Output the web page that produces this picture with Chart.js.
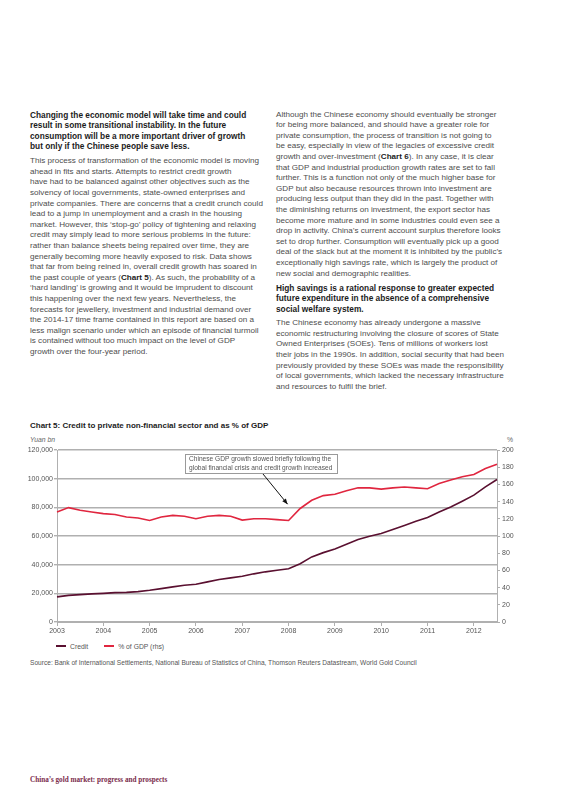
<!DOCTYPE html>
<html>
<head>
<meta charset="utf-8">
<script src="https://cdn.jsdelivr.net/npm/chart.js@4.4.0/dist/chart.umd.min.js"></script>
<style>
body{margin:0;background:#fff;width:573px;height:810px;position:relative;overflow:hidden;font-family:"Liberation Sans",Arial,sans-serif;}
.txt{position:absolute;font-size:8.1px;line-height:10.6px;color:#4d4d4d;white-space:nowrap;}
.hd{font-weight:bold;color:#1c1c1c;font-size:8.3px;}
.txt b{color:#1c1c1c;}
#title{position:absolute;left:30px;top:421px;font-size:8px;font-weight:bold;color:#1c1c1c;white-space:nowrap;}
.axt{position:absolute;font-size:6.8px;color:#666;top:436px;}
#chartbox{position:absolute;left:0;top:440px;width:573px;height:200px;}
#legend{position:absolute;left:56px;top:643px;font-size:6.8px;color:#555;white-space:nowrap;}
#legend span.sw{display:inline-block;width:10px;height:2px;vertical-align:middle;margin-right:4px;position:relative;top:-1px;}
#source{position:absolute;left:30px;top:659px;font-size:6.6px;color:#555;white-space:nowrap;}
#footer{position:absolute;left:30px;top:776px;font-size:7.2px;font-weight:bold;color:#7b2c4c;font-family:"Liberation Serif","DejaVu Serif",serif;white-space:nowrap;}
</style>
</head>
<body>

<div class="txt hd" style="left:30px;top:109.7px;">Changing the economic model will take time and could<br>result in some transitional instability. In the future<br>consumption will be a more important driver of growth<br>but only if the Chinese people save less.</div>

<div class="txt" style="left:30px;top:156.2px;">This process of transformation of the economic model is moving<br>ahead in fits and starts. Attempts to restrict credit growth<br>have had to be balanced against other objectives such as the<br>solvency of local governments, state-owned enterprises and<br>private companies. There are concerns that a credit crunch could<br>lead to a jump in unemployment and a crash in the housing<br>market. However, this ‘stop-go’ policy of tightening and relaxing<br>credit may simply lead to more serious problems in the future:<br>rather than balance sheets being repaired over time, they are<br>generally becoming more heavily exposed to risk. Data shows<br>that far from being reined in, overall credit growth has soared in<br>the past couple of years (<b>Chart 5</b>). As such, the probability of a<br>‘hard landing’ is growing and it would be imprudent to discount<br>this happening over the next few years. Nevertheless, the<br>forecasts for jewellery, investment and industrial demand over<br>the 2014-17 time frame contained in this report are based on a<br>less malign scenario under which an episode of financial turmoil<br>is contained without too much impact on the level of GDP<br>growth over the four-year period.</div>

<div class="txt" style="left:276px;top:109.7px;">Although the Chinese economy should eventually be stronger<br>for being more balanced, and should have a greater role for<br>private consumption, the process of transition is not going to<br>be easy, especially in view of the legacies of excessive credit<br>growth and over-investment (<b>Chart 6</b>). In any case, it is clear<br>that GDP and industrial production growth rates are set to fall<br>further. This is a function not only of the much higher base for<br>GDP but also because resources thrown into investment are<br>producing less output than they did in the past. Together with<br>the diminishing returns on investment, the export sector has<br>become more mature and in some industries could even see a<br>drop in activity. China’s current account surplus therefore looks<br>set to drop further. Consumption will eventually pick up a good<br>deal of the slack but at the moment it is inhibited by the public’s<br>exceptionally high savings rate, which is largely the product of<br>new social and demographic realities.</div>

<div class="txt hd" style="left:276px;top:282.7px;">High savings is a rational response to greater expected<br>future expenditure in the absence of a comprehensive<br>social welfare system.</div>

<div class="txt" style="left:276px;top:318.2px;">The Chinese economy has already undergone a massive<br>economic restructuring involving the closure of scores of State<br>Owned Enterprises (SOEs). Tens of millions of workers lost<br>their jobs in the 1990s. In addition, social security that had been<br>previously provided by these SOEs was made the responsibility<br>of local governments, which lacked the necessary infrastructure<br>and resources to fulfil the brief.</div>

<div id="title">Chart 5: Credit to private non-financial sector and as % of GDP</div>
<div class="axt" style="left:30px;font-style:italic;">Yuan bn</div>
<div class="axt" style="left:507px;">%</div>

<div id="chartbox"><canvas id="chart5" width="573" height="200"></canvas></div>

<div id="legend"><span class="sw" style="background:#5a1030"></span>Credit<span style="display:inline-block;width:16px"></span><span class="sw" style="background:#e0263f"></span>% of GDP (rhs)</div>

<div id="source">Source: Bank of International Settlements, National Bureau of Statistics of China, Thomson Reuters Datastream, World Gold Council</div>

<div id="footer">China’s gold market: progress and prospects</div>

<script>
// quarterly, 2003 Q1 .. 2012 Q3
var quarters = ["2003 Q1","2003 Q2","2003 Q3","2003 Q4","2004 Q1","2004 Q2","2004 Q3","2004 Q4",
  "2005 Q1","2005 Q2","2005 Q3","2005 Q4","2006 Q1","2006 Q2","2006 Q3","2006 Q4",
  "2007 Q1","2007 Q2","2007 Q3","2007 Q4","2008 Q1","2008 Q2","2008 Q3","2008 Q4",
  "2009 Q1","2009 Q2","2009 Q3","2009 Q4","2010 Q1","2010 Q2","2010 Q3","2010 Q4",
  "2011 Q1","2011 Q2","2011 Q3","2011 Q4","2012 Q1","2012 Q2","2012 Q3"];

// Yuan bn (lhs)
var credit = [17500,18600,19100,19600, 20000,20500,20700,21200,
  22100,23300,24500,25600, 26300,28000,29600,30800,
  31900,33600,35000,36100, 37100,40700,45400,48400,
  51000,54200,57500,59800, 61700,64500,67300,70300,
  72900,76800,80300,84300, 88500,94300,99400];

// % of GDP (rhs)
var gdpShare = [128,133,130,128, 126,125,122,121,
  118,122,124,123, 120,123,124,123,
  118.5,120,120,119, 118,132,141.5,147,
  148.5,152.5,156,156, 154.5,156,157,156,
  155,161,165,169, 171.5,178.5,183.5];

var leftTicks = [0,20000,40000,60000,80000,100000,120000];
var rightTicks = [0,20,40,60,80,100,120,140,160,180,200];

var noteLines = ["Chinese GDP growth slowed briefly following the",
  "global financial crisis and credit growth increased"];
var noteIndex = 20;   // 2008 Q1
var noteValue = 137;

var gridGrey = "#b0b0b0";
var tickFont = {family: "Liberation Sans", size: 7};

// draws the callout box and arrow
var notePlugin = {
  id: "note",
  afterDatasetsDraw: function(chart) {
    var ctx = chart.ctx, a = chart.chartArea;
    var bx = a.left + 128, by = a.top + 4, bw = 152, bh = 19;
    ctx.save();
    ctx.fillStyle = "#fff";
    ctx.fillRect(bx, by, bw, bh);
    ctx.strokeStyle = "#9a9a9a";
    ctx.lineWidth = 1;
    ctx.strokeRect(bx + 0.5, by + 0.5, bw, bh);
    ctx.fillStyle = "#555";
    ctx.font = "6.6px 'Liberation Sans'";
    ctx.textBaseline = "middle";
    ctx.fillText(noteLines[0], bx + 4, by + 5.5);
    ctx.fillText(noteLines[1], bx + 4, by + 14.5);
    // arrow
    var x0 = bx + 78, y0 = by + bh + 1;
    var x1 = chart.scales.x.getPixelForValue(noteIndex) - 1;
    var y1 = chart.scales.y1.getPixelForValue(noteValue);
    ctx.strokeStyle = "#111";
    ctx.lineWidth = 1;
    ctx.beginPath();
    ctx.moveTo(x0, y0);
    ctx.lineTo(x1, y1);
    ctx.stroke();
    var ang = Math.atan2(y1 - y0, x1 - x0);
    ctx.fillStyle = "#111";
    ctx.beginPath();
    ctx.moveTo(x1, y1);
    ctx.lineTo(x1 - 6 * Math.cos(ang - 0.4), y1 - 6 * Math.sin(ang - 0.4));
    ctx.lineTo(x1 - 6 * Math.cos(ang + 0.4), y1 - 6 * Math.sin(ang + 0.4));
    ctx.closePath();
    ctx.fill();
    ctx.restore();
  }
};

var chart5 = new Chart("chart5", {
  type: "line",
  data: {
    labels: quarters,
    datasets: [{
      label: "Credit",
      data: credit,
      borderColor: "#5a1030",
      borderWidth: 1.6,
      pointRadius: 0,
      yAxisID: "y"
    }, {
      label: "% of GDP (rhs)",
      data: gdpShare,
      borderColor: "#e0263f",
      borderWidth: 1.6,
      pointRadius: 0,
      yAxisID: "y1"
    }]
  },
  options: {
    responsive: false,
    animation: false,
    devicePixelRatio: 1,
    layout: {padding: {top: 10, left: 0, right: 0, bottom: 0}, autoPadding: false},
    plugins: {legend: {display: false}, tooltip: {enabled: false}},
    scales: {
      x: {
        offset: false,
        grid: {
          drawOnChartArea: false,
          tickLength: 4,
          color: function(c) { return c.index % 4 === 0 ? gridGrey : "rgba(0,0,0,0)"; }
        },
        border: {color: gridGrey},
        ticks: {
          autoSkip: false, maxRotation: 0, padding: 1, color: "#555", font: tickFont,
          callback: function(v, i) { return i % 4 === 0 ? quarters[i].slice(0, 4) : ""; }
        },
        afterFit: function(s) { s.height = 18; }
      },
      y: {
        position: "left",
        min: 0, max: 120000,
        afterBuildTicks: function(s) { s.ticks = leftTicks.map(function(v) { return {value: v}; }); },
        grid: {color: gridGrey, lineWidth: 1.4, tickLength: 3},
        border: {color: gridGrey},
        ticks: {
          padding: 1, color: "#555", font: tickFont,
          callback: function(v) { return v.toLocaleString("en-US"); }
        },
        afterFit: function(s) { s.width = 57; }
      },
      y1: {
        position: "right",
        min: 0, max: 200,
        afterBuildTicks: function(s) { s.ticks = rightTicks.map(function(v) { return {value: v}; }); },
        grid: {drawOnChartArea: false, color: gridGrey, tickLength: 3},
        border: {color: gridGrey},
        ticks: {padding: 2, color: "#555", font: tickFont},
        afterFit: function(s) { s.width = 76; }
      }
    }
  },
  plugins: [notePlugin]
});
</script>
</body>
</html>
